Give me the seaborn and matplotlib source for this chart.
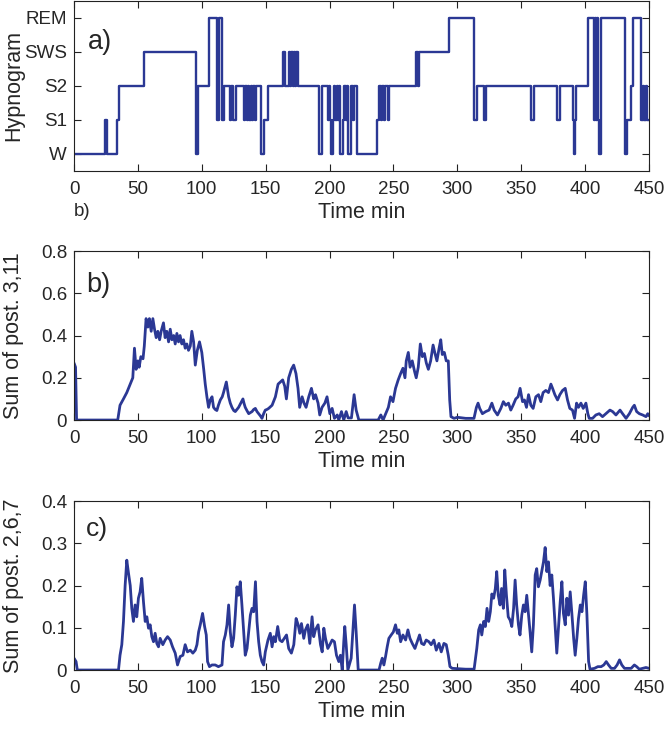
import matplotlib
matplotlib.use("Agg")
import matplotlib.pyplot as plt
import numpy as np
import pandas as pd
import seaborn as sns

# Hypnogram change points (minutes) and stage codes: W=1, S1=2, S2=3, SWS=4, REM=5
hyp_time = [
    0, 24.3, 25.6, 34.0, 35.5, 54.4, 95.6, 97.2, 106.0, 112.0, 113.2, 116.0, 117.0,
    122.0, 123.2, 124.4, 126.5, 133.0, 134.2, 135.2, 136.2, 137.2, 138.2, 139.4,
    140.4, 141.4, 142.5, 146.5, 148.5, 152.0, 163.6, 165.2, 168.0, 169.0, 169.8,
    171.0, 171.8, 173.0, 173.8, 175.2, 192.0, 194.4, 198.5, 199.3, 200.2, 201.5,
    202.5, 203.5, 204.5, 205.5, 206.5, 207.5, 208.5, 210.6, 211.5, 212.5, 213.3,
    214.2, 216.9, 218.5, 219.5, 221.6, 237.3, 239.0, 240.0, 241.2, 242.5, 243.5,
    245.5, 246.5, 268.0, 269.0, 270.0, 293.4, 313.0, 315.3, 321.0, 322.2, 358.0,
    360.0, 378.0, 380.0, 390.2, 391.0, 392.0, 392.8, 402.0, 407.0, 407.8, 408.6,
    409.4, 410.2, 411.2, 412.4, 431.0, 433.0, 435.7, 437.6, 443.7, 445.0, 446.0,
    447.5, 448.5, 450.0,
]
hyp_stage = [
    1, 2, 1, 2, 3, 4, 1, 3, 5, 2, 5, 2, 3,
    2, 3, 2, 3, 2, 3, 2, 3, 2, 3, 2,
    3, 2, 3, 1, 2, 3, 4, 3, 4, 3, 4,
    3, 4, 3, 4, 3, 1, 3, 2, 3, 2, 1,
    2, 3, 2, 3, 2, 3, 1, 2, 3, 2, 3,
    1, 3, 2, 3, 1, 2, 3, 2, 3, 2, 3,
    2, 3, 4, 3, 4, 5, 2, 3, 2, 3, 2,
    3, 2, 3, 2, 1, 2, 3, 5, 2, 5, 2,
    5, 2, 1, 5, 1, 2, 3, 5, 2, 3, 2,
    3, 2, 2,
]
stage_labels = ["W", "S1", "S2", "SWS", "REM"]

# Sum of posteriors 3,11
b_time = [
    0, 1.2, 2.0, 34.2, 36, 38.7, 41.3, 44, 46, 47.3, 48.6, 50, 51, 52.3, 54, 55,
    56.4, 57.8, 59, 60.4, 61.7, 63, 64.3, 65.6, 67, 68.2, 70, 71.3, 72.6, 74, 75.3,
    76.6, 78, 79.2, 80.5, 81.8, 83, 84.4, 85.7, 87, 88.3, 89.6, 91, 92.2, 93.6,
    94.9, 96.5, 98.2, 100, 101.5, 102.7, 104, 105.3, 106.6, 108, 109.2, 110.5,
    111.8, 113, 114.5, 116, 117, 119.2, 120.2, 121, 122.3, 123.6, 125, 126.2,
    127.5, 128.8, 130.5, 132.2, 133, 134, 135.3, 136.7, 138, 139.3, 140.6, 141.9,
    143.2, 144.5, 145.8, 147.1, 148.4, 149.7, 151, 152.3, 155, 157.6, 159.7,
    161.5, 163.3, 164.9, 166.2, 168, 170.1, 171.9, 173.7, 175.3, 176.6, 178.5,
    180, 181.6, 183.7, 185.8, 187.6, 189, 191, 192.3, 194.1, 196.3, 198, 200.2,
    202, 203.8, 206, 207.2, 209.3, 211.1, 213, 214.5, 217.1, 219.2, 220.8, 222.9,
    238, 240.1, 241.9, 243.5, 246, 247.7, 249.6, 251.6, 253.7, 255.6, 257.4, 259,
    260, 261.6, 263, 264.7, 266.5, 267.8, 269.4, 271, 272.6, 274.2, 275.7, 277.3,
    279.1, 281, 282.5, 284, 285.7, 287, 288.2, 289.8, 291.3, 292.9, 294, 295,
    297.4, 300, 306.5, 313, 314.9, 316.2, 317.5, 319.6, 322.2, 324.8, 327, 328.8,
    331.4, 334, 336, 337.9, 340, 341.8, 343.6, 345.7, 347.5, 349.1, 351, 352.5,
    354.1, 355.7, 357.5, 359.3, 361.4, 363.5, 365.3, 367.1, 369.2, 371.3, 373.2,
    374.5, 376.3, 378.4, 380.2, 382.3, 384.4, 386.2, 388, 390.1, 391.7, 393.3,
    394.8, 396.7, 398.5, 400.6, 402.1, 403.2, 405.8, 408.4, 411, 413.6, 416.2,
    419.4, 421.5, 424.1, 427.3, 429.3, 432, 434.6, 437.2, 438.5, 440.3, 442.4,
    445, 447.6, 449, 450,
]
b_value = [
    0.27, 0.25, 0.0, 0.0, 0.07, 0.10, 0.13, 0.17, 0.20, 0.34, 0.24, 0.28, 0.25, 0.30, 0.29, 0.35,
    0.48, 0.44, 0.48, 0.42, 0.48, 0.43, 0.39, 0.42, 0.38, 0.42, 0.46, 0.39, 0.42, 0.37, 0.43,
    0.38, 0.40, 0.36, 0.41, 0.37, 0.40, 0.36, 0.38, 0.34, 0.36, 0.33, 0.35, 0.42, 0.37,
    0.26, 0.33, 0.37, 0.32, 0.24, 0.17, 0.11, 0.06, 0.095, 0.11, 0.06, 0.05,
    0.045, 0.07, 0.095, 0.11, 0.13, 0.18, 0.14, 0.11, 0.08, 0.06, 0.045, 0.04,
    0.05, 0.06, 0.08, 0.10, 0.08, 0.06, 0.045, 0.03, 0.035, 0.04, 0.05, 0.055,
    0.04, 0.03, 0.02, 0.008, 0.03, 0.047, 0.05, 0.055, 0.07, 0.11, 0.17,
    0.18, 0.19, 0.16, 0.10, 0.20, 0.24, 0.26, 0.22, 0.15, 0.06, 0.11,
    0.08, 0.06, 0.11, 0.15, 0.10, 0.12, 0.08, 0.024, 0.06, 0.08, 0.11, 0.03,
    0.055, 0.008, 0.024, 0.0, 0.04, 0.0, 0.04, 0.01, 0.01, 0.12, 0.047, 0.0,
    0.0, 0.024, 0.0, 0.024, 0.06, 0.11, 0.087, 0.15, 0.19, 0.22, 0.245, 0.20,
    0.28, 0.32, 0.25, 0.28, 0.23, 0.20, 0.25, 0.36, 0.30, 0.315, 0.27, 0.24,
    0.28, 0.355, 0.315, 0.28, 0.34, 0.38, 0.31, 0.32, 0.28, 0.28, 0.095, 0.016,
    0.008, 0.013, 0.008, 0.008, 0.06, 0.08, 0.055, 0.03, 0.04, 0.047, 0.08, 0.047,
    0.024, 0.055, 0.087, 0.07, 0.08, 0.047, 0.07, 0.10, 0.11, 0.15, 0.087, 0.095,
    0.06, 0.12, 0.07, 0.055, 0.11, 0.12, 0.087, 0.13, 0.14, 0.13, 0.17,
    0.15, 0.12, 0.095, 0.12, 0.14, 0.15, 0.095, 0.055, 0.047, 0.008, 0.08,
    0.06, 0.08, 0.055, 0.08, 0.03, 0.008, 0.008, 0.024, 0.03, 0.016, 0.03,
    0.047, 0.04, 0.024, 0.047, 0.03, 0.008, 0.03, 0.06, 0.07, 0.04, 0.03,
    0.024, 0.016, 0.03, 0.02,
]

# Sum of posteriors 2,6,7
c_time = [
    0, 1.6, 2.6, 34.8, 36, 37.4, 38.7, 40, 41.3, 42.6, 44, 45.2, 46.5, 47.8, 49.1,
    50.4, 51.7, 53, 54.4, 55.7, 57, 58.3, 59.6, 60.9, 62.2, 63.5, 64.8, 66.1, 67.4,
    69.5, 71.3, 73.2, 75.3, 77.1, 79.2, 81, 83.1, 85.2, 87, 88.8, 91, 93, 94.9,
    96.2, 97.5, 98.8, 100.6, 102.2, 103.5, 104.5, 106, 108, 110.5, 113, 115.8, 117,
    118.4, 119.7, 121, 122.3, 123.6, 124.9, 126.2, 127.5, 128.8, 130.1, 131.4,
    132.8, 134, 135.4, 136.7, 138, 139.3, 140.6, 142, 143.2, 144.5, 145.8, 147.1,
    148.4, 149.7, 151.8, 153.6, 155, 156.3, 157.6, 159.4, 161, 162.8, 164.6, 166.3,
    168, 170.1, 172, 173.8, 175.4, 176.7, 178, 179.8, 181.1, 182.9, 184.5, 186.3,
    187.6, 188.9, 191, 192.9, 194.2, 195.5, 196.8, 198.6, 200.2, 202, 203.8, 205.4,
    207.2, 208.5, 209.9, 211.1, 211.9, 213, 214.3, 216.9, 218.2, 219.5, 220.8,
    222.4, 238.7, 240, 241.2, 242.5, 243.8, 245.1, 246.4, 248.2, 249.9, 251.6, 253,
    254.2, 255.6, 257.4, 259.5, 261.3, 262.9, 264.7, 266.8, 268.6, 270.4, 272,
    273.8, 275.6, 277.7, 279.5, 281.6, 283.5, 285.6, 287.4, 289.5, 291.3, 292.9,
    294.2, 296, 306.5, 313.1, 315.2, 316.7, 318, 319.1, 320.6, 321.9, 323.2, 324.5,
    325.8, 327, 328.4, 329.7, 330.8, 332, 333.4, 334.6, 336, 337.1, 338.4, 339.8,
    341.3, 342.6, 344, 345.2, 346.4, 347.8, 349, 350.4, 351.7, 353, 354.3, 355.6,
    356.9, 358.2, 359.5, 360.9, 362.1, 363.4, 364.8, 366, 367.4, 368.7, 370, 371.3,
    372.6, 373.9, 375.2, 376.5, 377.8, 379.1, 380.5, 381.8, 383, 384.4, 385.7, 387,
    388.3, 389.6, 391, 392.2, 393.5, 394.8, 396.2, 397.5, 398.8, 400.1, 401.4,
    402.7, 403.8, 407.3, 409.9, 412.5, 414.6, 416.5, 418.3, 420.4, 423, 425, 426.9,
    428.7, 430.8, 433.4, 436, 438.5, 440.3, 442.4, 445, 447.6, 450,
]
c_value = [
    0.028, 0.02, 0.0, 0.0, 0.035, 0.06, 0.115, 0.20, 0.26, 0.23, 0.20, 0.146, 0.115, 0.154, 0.126,
    0.17, 0.185, 0.217, 0.16, 0.115, 0.126, 0.099, 0.107, 0.079, 0.067, 0.087, 0.063, 0.055, 0.075,
    0.06, 0.071, 0.079, 0.071, 0.055, 0.04, 0.012, 0.032, 0.035, 0.06, 0.043, 0.047, 0.04, 0.047,
    0.06, 0.09, 0.107, 0.134, 0.103, 0.083, 0.02, 0.008, 0.012, 0.012, 0.008, 0.012, 0.067,
    0.083, 0.107, 0.154, 0.09, 0.055, 0.075, 0.13, 0.197, 0.177, 0.209, 0.154,
    0.09, 0.035, 0.051, 0.09, 0.13, 0.146, 0.138, 0.209, 0.115, 0.067, 0.035, 0.02,
    0.012, 0.043, 0.071, 0.087, 0.055, 0.079, 0.067, 0.103, 0.071, 0.067, 0.075, 0.083,
    0.051, 0.04, 0.06, 0.122, 0.107, 0.087, 0.11, 0.075, 0.095, 0.107, 0.063, 0.126,
    0.079, 0.095, 0.107, 0.06, 0.043, 0.099, 0.075, 0.051, 0.06, 0.071, 0.067, 0.035,
    0.02, 0.035, 0.0, 0.067, 0.103, 0.06, 0.0, 0.028, 0.09, 0.154, 0.09,
    0.0, 0.0, 0.016, 0.028, 0.012, 0.032, 0.055, 0.075, 0.083, 0.09, 0.107, 0.087,
    0.095, 0.067, 0.083, 0.071, 0.095, 0.075, 0.063, 0.051, 0.067, 0.083, 0.063,
    0.06, 0.071, 0.067, 0.06, 0.071, 0.047, 0.063, 0.043, 0.063, 0.06, 0.035,
    0.008, 0.004, 0.002, 0.002, 0.051, 0.095, 0.107, 0.083, 0.115, 0.103, 0.146, 0.115,
    0.138, 0.18, 0.17, 0.193, 0.233, 0.177, 0.154, 0.193, 0.146, 0.237, 0.177, 0.126,
    0.118, 0.103, 0.146, 0.213, 0.154, 0.107, 0.083, 0.13, 0.154, 0.138, 0.177, 0.134,
    0.09, 0.043, 0.107, 0.225, 0.24, 0.197, 0.213, 0.233, 0.256, 0.29, 0.233, 0.256,
    0.20, 0.225, 0.17, 0.103, 0.04, 0.099, 0.162, 0.209, 0.134, 0.107, 0.17, 0.13,
    0.185, 0.134, 0.075, 0.035, 0.075, 0.122, 0.154, 0.138, 0.177, 0.209, 0.13,
    0.02, 0.002, 0.004, 0.008, 0.008, 0.012, 0.02, 0.012, 0.004, 0.004, 0.012, 0.024,
    0.012, 0.004, 0.004, 0.004, 0.012, 0.008, 0.002, 0.004, 0.006, 0.004,
]

hyp_df = pd.DataFrame({"time": hyp_time, "stage": hyp_stage})
b_df = pd.DataFrame({"time": b_time, "value": b_value})
c_df = pd.DataFrame({"time": c_time, "value": c_value})

sns.set_style("ticks")
plt.rcParams["font.family"] = ["Liberation Sans", "DejaVu Sans"]
plt.rcParams["axes.edgecolor"] = "#222222"
plt.rcParams["axes.linewidth"] = 0.8

line_color = "#2b3894"
tick_fs = 13.5
label_fs = 15.5

fig = plt.figure(figsize=(6.65, 7.31), dpi=100)
left, width = 0.1113, 0.8647
ax_a = fig.add_axes([left, 0.7661, width, 0.2326])
ax_b = fig.add_axes([left, 0.4254, width, 0.2312])
ax_c = fig.add_axes([left, 0.0834, width, 0.2312])

sns.lineplot(data=hyp_df, x="time", y="stage", drawstyle="steps-post",
             color=line_color, linewidth=1.7, estimator=None, sort=False, ax=ax_a)
sns.lineplot(data=b_df, x="time", y="value", color=line_color, linewidth=2.0,
             estimator=None, sort=False, ax=ax_b)
sns.lineplot(data=c_df, x="time", y="value", color=line_color, linewidth=2.0,
             estimator=None, sort=False, ax=ax_c)

ax_a.set(ylim=(0.5, 5.5), yticks=[1, 2, 3, 4, 5])
ax_a.set_yticklabels(stage_labels)
ax_a.set_ylabel("Hypnogram", fontsize=label_fs)

ax_b.set(ylim=(0, 0.8), yticks=[0, 0.2, 0.4, 0.6, 0.8])
ax_b.set_yticklabels(["0", "0.2", "0.4", "0.6", "0.8"])
ax_b.set_ylabel("Sum of post. 3,11", fontsize=label_fs)

ax_c.set(ylim=(0, 0.4), yticks=[0, 0.1, 0.2, 0.3, 0.4])
ax_c.set_yticklabels(["0", "0.1", "0.2", "0.3", "0.4"])
ax_c.set_ylabel("Sum of post. 2,6,7", fontsize=label_fs)

for ax in (ax_a, ax_b, ax_c):
    ax.set_xlim(0, 450)
    ax.set_xticks(np.arange(0, 451, 50))
    ax.set_xlabel("Time min", fontsize=label_fs, labelpad=3)
    ax.tick_params(direction="in", top=True, right=True, length=5, width=0.8,
                   labelsize=tick_fs, color="#222222")
    ax.tick_params(axis="x", pad=7)
    ax.tick_params(axis="y", pad=5)
    ax.yaxis.set_label_coords(-0.087, 0.5)
    for s in ax.spines.values():
        s.set_visible(True)

fig.text(0.1496, 0.9425, "a)", fontsize=19.5, ha="center", va="center")
fig.text(0.1484, 0.6101, "b)", fontsize=19.5, ha="center", va="center")
fig.text(0.1454, 0.2763, "c)", fontsize=19, ha="center", va="center")
fig.text(0.1113, 0.710, "b)", fontsize=13.5, ha="left", va="center")

fig.savefig("out.png", dpi=100)
